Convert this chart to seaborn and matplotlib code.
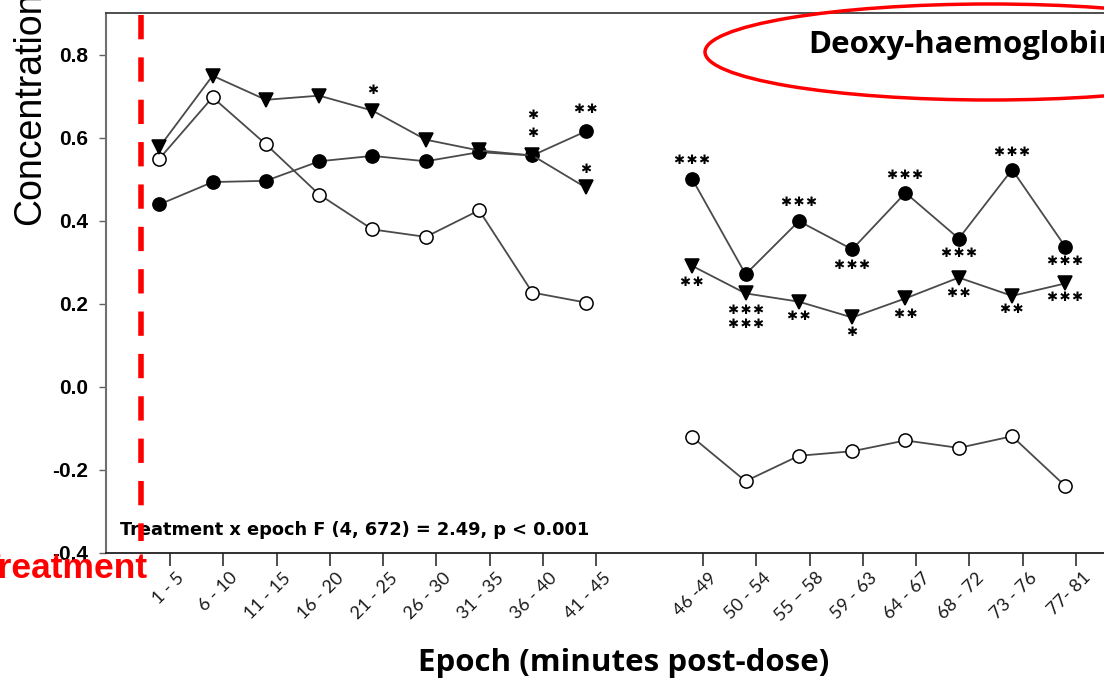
import numpy as np
import pandas as pd
import matplotlib
matplotlib.use("Agg")
import matplotlib.pyplot as plt
from matplotlib.patches import Ellipse
from matplotlib.transforms import ScaledTranslation
import seaborn as sns

# ---------------- data ----------------
epochs = ["1 - 5", "6 - 10", "11 - 15", "16 - 20", "21 - 25", "26 - 30", "31 - 35",
          "36 - 40", "41 - 45",
          "46 -49", "50 - 54", "55 \u2013 58", "59 - 63", "64 - 67", "68 - 72",
          "73 - 76", "77- 81"]
block = [1] * 9 + [2] * 8

filled_circle = [0.439, 0.493, 0.496, 0.543, 0.556, 0.543, 0.565, 0.557, 0.615,
                 0.500, 0.271, 0.399, 0.331, 0.467, 0.357, 0.523, 0.337]
filled_triangle = [0.577, 0.749, 0.691, 0.701, 0.665, 0.595, 0.569, 0.557, 0.480,
                   0.291, 0.225, 0.205, 0.167, 0.213, 0.263, 0.219, 0.249]
open_circle = [0.549, 0.697, 0.584, 0.463, 0.379, 0.361, 0.425, 0.227, 0.203,
               -0.121, -0.227, -0.166, -0.155, -0.129, -0.147, -0.119, -0.239]

y_ticks = [-0.4, -0.2, 0.0, 0.2, 0.4, 0.6, 0.8]

# significance stars: (epoch index, y value, stars)
stars = [(4, 0.713, "*"), (7, 0.653, "*"), (7, 0.611, "*"), (8, 0.667, "**"),
         (8, 0.524, "*"),
         (9, 0.545, "***"), (9, 0.251, "**"), (10, 0.183, "***"), (10, 0.149, "***"),
         (11, 0.444, "***"), (11, 0.169, "**"), (12, 0.293, "***"), (12, 0.130, "*"),
         (13, 0.508, "***"), (13, 0.175, "**"), (14, 0.320, "***"), (14, 0.225, "**"),
         (15, 0.565, "***"), (15, 0.187, "**"), (16, 0.301, "***"), (16, 0.215, "***")]

stats_text = "Treatment x epoch F (4, 672) = 2.49, p < 0.001"
title_text = "Deoxy-haemoglobin"

# ---------------- style ----------------
sns.set_style("ticks")
plt.rcParams["font.family"] = ["Liberation Sans", "DejaVu Sans"]
plt.rcParams["lines.scale_dashes"] = False
plt.rcParams["text.color"] = "black"
plt.rcParams["xtick.labelcolor"] = "black"
plt.rcParams["ytick.labelcolor"] = "black"

W, H = 1104, 683
fig = plt.figure(figsize=(W / 100, H / 100), dpi=100)

# category positions with a gap between the two blocks
idx = np.arange(len(epochs))
xpos = idx + (np.array(block) - 1)

ax_left, ax_bottom, ax_top = 106, 553, 13
x_lo, x_hi = -1.0, 18.0
px_per_unit = 53.3
ax_w = (x_hi - x_lo) * px_per_unit
ax = fig.add_axes([ax_left / W, (H - ax_bottom) / H, ax_w / W, (ax_bottom - ax_top) / H])

rows = []
for name, vals in [("filled", filled_circle), ("triangle", filled_triangle),
                   ("open", open_circle)]:
    for i, v in enumerate(vals):
        rows.append(dict(series=name, x=xpos[i], block=block[i], value=v))
df = pd.DataFrame(rows)

styles = {"open": ("o", "white"), "filled": ("o", "black"), "triangle": ("v", "black")}
for name in ["open", "filled", "triangle"]:
    mk, fc = styles[name]
    sns.lineplot(data=df[df.series == name], x="x", y="value", units="block",
                 estimator=None, sort=False, ax=ax, color="#4a4a4a", lw=1.3,
                 marker=mk, markersize=9.5, markerfacecolor=fc,
                 markeredgecolor="black", markeredgewidth=1.1, legend=False,
                 zorder=3)

# stars
for i, yv, s in stars:
    ax.text(xpos[i], yv, "\u200a".join(["\u2731"] * len(s)), ha="center", va="center",
            fontsize=9.5, family="DejaVu Sans", color="black", zorder=4)

ax.set_xlim(x_lo, x_hi)
ax.set_ylim(-0.4, 0.9)
ax.set_yticks(y_ticks, [f"{v:.1f}" for v in y_ticks])
ax.set_xticks(xpos + 0.2, epochs)
ax.set_xlabel("")
ax.set_ylabel("")

ax.tick_params(axis="y", length=5, width=1, color="#606060", pad=8, labelsize=15)
for lbl in ax.get_yticklabels():
    lbl.set_fontweight("bold")
ax.tick_params(axis="x", length=9, width=1.2, color="#303030", pad=3, labelsize=13)
offset = ScaledTranslation(6 / 100, 0, fig.dpi_scale_trans)
for lbl in ax.get_xticklabels():
    lbl.set_rotation(45)
    lbl.set_ha("right")
    lbl.set_va("top")
    lbl.set_rotation_mode("anchor")
    lbl.set_family(["Lato", "DejaVu Sans"])
    lbl.set_color("#1a1a1a")
    lbl.set_transform(lbl.get_transform() + offset)

for side in ["top", "right", "bottom", "left"]:
    ax.spines[side].set_visible(True)
ax.spines["left"].set_color("#707070")
ax.spines["left"].set_linewidth(1.5)
ax.spines["bottom"].set_color("#202020")
ax.spines["bottom"].set_linewidth(1.3)
ax.spines["top"].set_color("#404040")
ax.spines["top"].set_linewidth(1.3)

# red dashed treatment line
x_treat = -0.35
ax.plot([x_treat, x_treat], [0.894, -0.372], color="#ff0000", lw=4,
        dashes=(17.5, 13), zorder=5, solid_capstyle="butt", dash_capstyle="butt")

# stats text
ax.text((120 - ax_left) / ax_w, (ax_bottom - 530) / (ax_bottom - ax_top), stats_text,
        transform=ax.transAxes, ha="left", va="center", fontsize=12.8,
        fontweight="bold", family=["DejaVu Sans"], color="black", zorder=2)

# figure-level texts
fig.text(30 / W, 1 - 225 / H, "Concentration", rotation=90, ha="center", va="bottom",
         fontsize=27, color="black")
fig.text(624 / W, 1 - 663 / H, "Epoch (minutes post-dose)", ha="center", va="center",
         fontsize=22.5, fontweight="bold", family=["Open Sans", "DejaVu Sans"],
         color="black")
fig.text(148 / W, 1 - 568 / H, "Treatment", ha="right", va="center", fontsize=25.5,
         fontweight="bold", color="#ff0000")
fig.text(808 / W, 1 - 45 / H, title_text, ha="left", va="center", fontsize=22.5,
         fontweight="bold", family=["Open Sans", "DejaVu Sans"], color="black")
fig.add_artist(Ellipse((990 / W, 1 - 52 / H), 570 / W, 96 / H, transform=fig.transFigure,
                       facecolor="none", edgecolor="#ff0000", lw=2.5))

fig.savefig("out.png", dpi=100)
